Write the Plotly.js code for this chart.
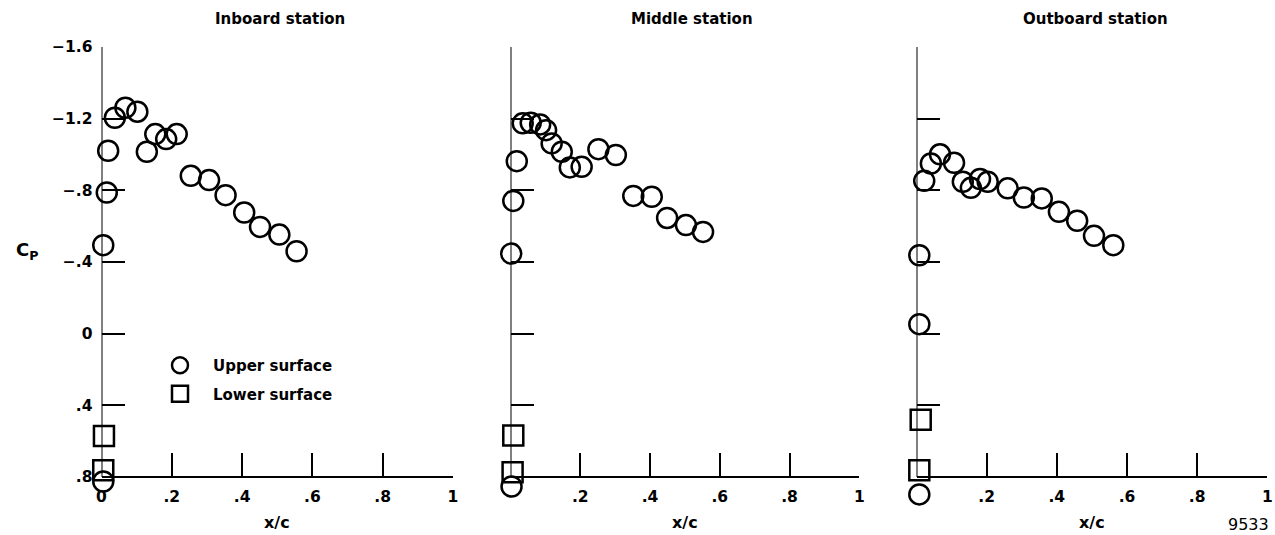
<!DOCTYPE html>
<html>
<head>
<meta charset="utf-8">
<script src="https://cdn.plot.ly/plotly-3.0.1.min.js"></script>
<style>html,body{margin:0;padding:0;background:#fff;}#chart{width:1275px;height:535px;}</style>
</head>
<body>
<div id="chart"></div>
<script>
// ---- Data ----
const stationTitles = ["Inboard station", "Middle station", "Outboard station"];

const inboardUpperX = [0.005, 0.015, 0.019, 0.038, 0.068, 0.102, 0.129, 0.153, 0.184, 0.214, 0.254, 0.306, 0.353, 0.406, 0.451, 0.506, 0.555, 0.005];
const inboardUpperCp = [-0.494, -0.788, -1.021, -1.205, -1.261, -1.239, -1.015, -1.114, -1.086, -1.114, -0.881, -0.857, -0.773, -0.676, -0.596, -0.553, -0.460, 0.825];
const inboardLowerX = [0.007, 0.005];
const inboardLowerCp = [0.571, 0.763];

const middleUpperX = [0.002, 0.008, 0.018, 0.035, 0.058, 0.085, 0.102, 0.118, 0.147, 0.170, 0.204, 0.252, 0.302, 0.352, 0.405, 0.449, 0.503, 0.552, 0.003];
const middleUpperCp = [-0.447, -0.741, -0.963, -1.174, -1.177, -1.168, -1.136, -1.062, -1.015, -0.928, -0.931, -1.030, -0.997, -0.769, -0.764, -0.646, -0.606, -0.568, 0.853];
const middleLowerX = [0.008, 0.006];
const middleLowerCp = [0.568, 0.773];

const outboardUpperX = [0.008, 0.008, 0.022, 0.041, 0.067, 0.107, 0.132, 0.155, 0.181, 0.203, 0.260, 0.306, 0.357, 0.406, 0.458, 0.506, 0.561, 0.008];
const outboardUpperCp = [-0.053, -0.438, -0.853, -0.950, -1.001, -0.954, -0.848, -0.814, -0.863, -0.848, -0.811, -0.760, -0.755, -0.680, -0.630, -0.546, -0.494, 0.897];
const outboardLowerX = [0.012, 0.008];
const outboardLowerCp = [0.480, 0.763];

const yTickVals = [-1.6, -1.2, -0.8, -0.4, 0, 0.4, 0.8];
const yTickText = ["\u22121.6", "\u22121.2", "\u2212.8", "\u2212.4", "0", ".4", ".8"];
const xTickValsFirst = [0, 0.2, 0.4, 0.6, 0.8, 1];
const xTickTextFirst = ["0", ".2", ".4", ".6", ".8", "1"];
const xTickValsOther = [0.2, 0.4, 0.6, 0.8, 1];
const xTickTextOther = [".2", ".4", ".6", ".8", "1"];
const seriesNames = ["Upper surface", "Lower surface"];

// ---- Layout helpers ----
const W = 1275, H = 535;
const FONT = "DejaVu Sans, Verdana, sans-serif";
const px = v => v / W;
const py = v => 1 - v / H;

const yTop = yTickVals[0], yAxisEnd = yTickVals[yTickVals.length - 1];
const yPxPerUnit = (477 - 47) / (yAxisEnd - yTop);
const yRangeBottom = 0.95; // extra room so markers sitting below the x axis are drawn
const xDomains = [[px(101.5), px(453)], [px(510.5), px(859.3)], [px(916.5), px(1267.3)]];
const yDomain = [py(477 + (yRangeBottom - yAxisEnd) * yPxPerUnit), py(47)];

const upperStyle = {symbol: "circle-open", size: 20, color: "black", line: {width: 2.5, color: "black"}};
const lowerStyle = {symbol: "square-open", size: 20, color: "black", line: {width: 2.5, color: "black"}};

const panels = [
  [inboardUpperX, inboardUpperCp, inboardLowerX, inboardLowerCp],
  [middleUpperX, middleUpperCp, middleLowerX, middleLowerCp],
  [outboardUpperX, outboardUpperCp, outboardLowerX, outboardLowerCp]
];

const traces = [];
panels.forEach((p, i) => {
  const xa = i === 0 ? "x" : "x" + (i + 1);
  const ya = i === 0 ? "y" : "y" + (i + 1);
  traces.push({x: p[0], y: p[1], xaxis: xa, yaxis: ya, type: "scatter", mode: "markers",
    name: seriesNames[0], legendgroup: "u", showlegend: i === 0, marker: upperStyle, cliponaxis: false});
  traces.push({x: p[2], y: p[3], xaxis: xa, yaxis: ya, type: "scatter", mode: "markers",
    name: seriesNames[1], legendgroup: "l", showlegend: i === 0, marker: lowerStyle, cliponaxis: false});
});

const tickFont = {family: FONT, size: 15.5, color: "black", weight: "bold"};

const layout = {
  width: W, height: H,
  margin: {l: 0, r: 0, t: 0, b: 0},
  paper_bgcolor: "white", plot_bgcolor: "white",
  showlegend: true,
  legend: {x: px(147), y: py(349), xanchor: "left", yanchor: "top",
    bgcolor: "rgba(0,0,0,0)", borderwidth: 0,
    font: {family: FONT, size: 15, color: "black", weight: "bold"},
    itemwidth: 56, traceorder: "grouped", tracegroupgap: 6},
  annotations: [],
  shapes: []
};

const titleX = [280, 692, 1095];
const xcX = [277, 685, 1092];
for (let i = 0; i < 3; i++) {
  const s = i === 0 ? "" : String(i + 1);
  layout["xaxis" + s] = {
    domain: xDomains[i], range: [0, 1], anchor: "free", position: py(477),
    showgrid: false, zeroline: false, showline: true, linecolor: "black", linewidth: 2,
    ticks: "inside", ticklen: 23, tickwidth: 2, tickcolor: "black",
    tickmode: "array",
    tickvals: i === 0 ? xTickValsFirst : xTickValsOther,
    ticktext: i === 0 ? xTickTextFirst : xTickTextOther,
    tickfont: tickFont, ticklabelstandoff: 5, fixedrange: true
  };
  layout["yaxis" + s] = {
    domain: yDomain, range: [yRangeBottom, yTop], anchor: "x" + s,
    showgrid: false, zeroline: false, showline: false,
    ticks: "inside", ticklen: 23, tickwidth: 2, tickcolor: "black",
    tickmode: "array", tickvals: yTickVals, ticktext: yTickText,
    showticklabels: i === 0, tickfont: tickFont, ticklabelstandoff: 8, fixedrange: true
  };
  // the vertical axis line, from the top tick down to the x axis
  layout.shapes.push({type: "line", xref: "x" + s, yref: "y" + s,
    x0: 0, x1: 0, y0: yTop, y1: yAxisEnd, line: {color: "black", width: 2}});
  layout.annotations.push({text: stationTitles[i], xref: "paper", yref: "paper",
    x: px(titleX[i]), y: py(19), xanchor: "center", yanchor: "middle", showarrow: false,
    font: {family: FONT, size: 15, color: "black", weight: "bold"}});
  layout.annotations.push({text: "x/c", xref: "paper", yref: "paper",
    x: px(xcX[i]), y: py(522), xanchor: "center", yanchor: "middle", showarrow: false,
    font: {family: FONT, size: 16, color: "black", weight: "bold"}});
}
layout.annotations.push({text: "C<sub>P</sub>", xref: "paper", yref: "paper",
  x: px(27), y: py(251), xanchor: "center", yanchor: "middle", showarrow: false,
  font: {family: FONT, size: 18, color: "black", weight: "bold"}});
layout.annotations.push({text: "9533", xref: "paper", yref: "paper",
  x: px(1248), y: py(524), xanchor: "center", yanchor: "middle", showarrow: false,
  font: {family: FONT, size: 16, color: "black"}});

Plotly.newPlot("chart", traces, layout, {staticPlot: true, displayModeBar: false});
</script>
</body>
</html>
